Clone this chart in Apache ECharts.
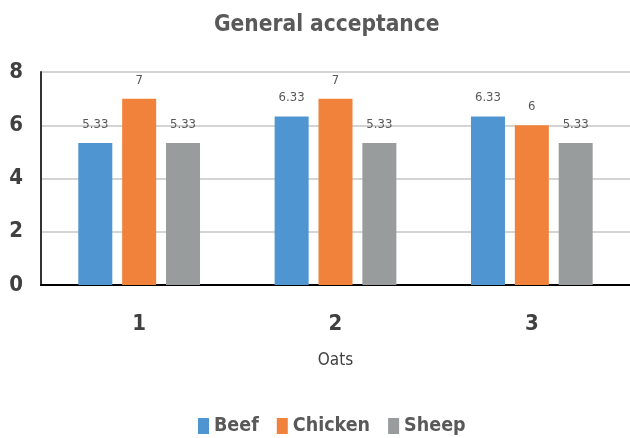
<!DOCTYPE html>
<html>
<head>
<meta charset="UTF-8">
<title>General acceptance</title>
<script src="https://cdn.jsdelivr.net/npm/echarts@6/dist/echarts.min.js"></script>
<style>
  html, body { margin: 0; padding: 0; background: #fff; }
  #main { width: 630px; height: 438px; }
</style>
</head>
<body>
<div id="main"></div>
<script>
  // data
  var categories = ['1', '2', '3'];
  var beef = [5.33, 6.33, 6.33];
  var chicken = [7, 7, 6];
  var sheep = [5.33, 5.33, 5.33];
  var yTicks = [0, 2, 4, 6, 8];

  var narrow = "'DejaVu Sans Condensed', 'Liberation Sans', sans-serif";

  var chart = echarts.init(document.getElementById('main'));

  function barSeries(name, data, color) {
    return {
      name: name,
      type: 'bar',
      data: data,
      barWidth: 34,
      barGap: '29%',
      itemStyle: { color: color },
      label: {
        show: true,
        position: 'top',
        distance: 12,
        color: '#595959',
        fontFamily: narrow,
        fontSize: 13
      }
    };
  }

  var option = {
    animation: false,
    title: {
      text: 'General acceptance',
      left: 209,
      top: 9,
      textStyle: {
        fontFamily: narrow,
        fontWeight: 'bold',
        fontSize: 22.5,
        color: '#595959'
      }
    },
    legend: {
      bottom: -3,
      left: 193,
      itemWidth: 11,
      itemHeight: 16,
      itemGap: 18,
      icon: 'rect',
      textStyle: {
        fontFamily: narrow,
        fontWeight: 'bold',
        fontSize: 19.5,
        color: '#595959'
      },
      data: ['Beef', 'Chicken', 'Sheep']
    },
    grid: {
      left: 41,
      right: -2,
      top: 72,
      bottom: 153
    },
    xAxis: {
      type: 'category',
      data: categories,
      name: 'Oats',
      nameLocation: 'middle',
      nameGap: 67,
      nameTextStyle: {
        fontFamily: narrow,
        fontSize: 17,
        color: '#404040'
      },
      axisLine: { lineStyle: { color: '#000', width: 2 } },
      axisTick: { show: false },
      axisLabel: {
        margin: 28,
        fontFamily: narrow,
        fontWeight: 'bold',
        fontSize: 22,
        color: '#404040'
      }
    },
    yAxis: {
      type: 'value',
      min: yTicks[0],
      max: yTicks[yTicks.length - 1],
      interval: 2,
      axisLine: { show: true, lineStyle: { color: '#333', width: 2 } },
      axisTick: { show: false },
      axisLabel: {
        margin: 18,
        fontFamily: narrow,
        fontWeight: 'bold',
        fontSize: 22,
        color: '#404040'
      },
      splitLine: { lineStyle: { color: '#d4d4d4', width: 2 } }
    },
    series: [
      barSeries('Beef', beef, '#4e95d1'),
      barSeries('Chicken', chicken, '#f0823b'),
      barSeries('Sheep', sheep, '#999c9d')
    ]
  };

  chart.setOption(option);
</script>
</body>
</html>
